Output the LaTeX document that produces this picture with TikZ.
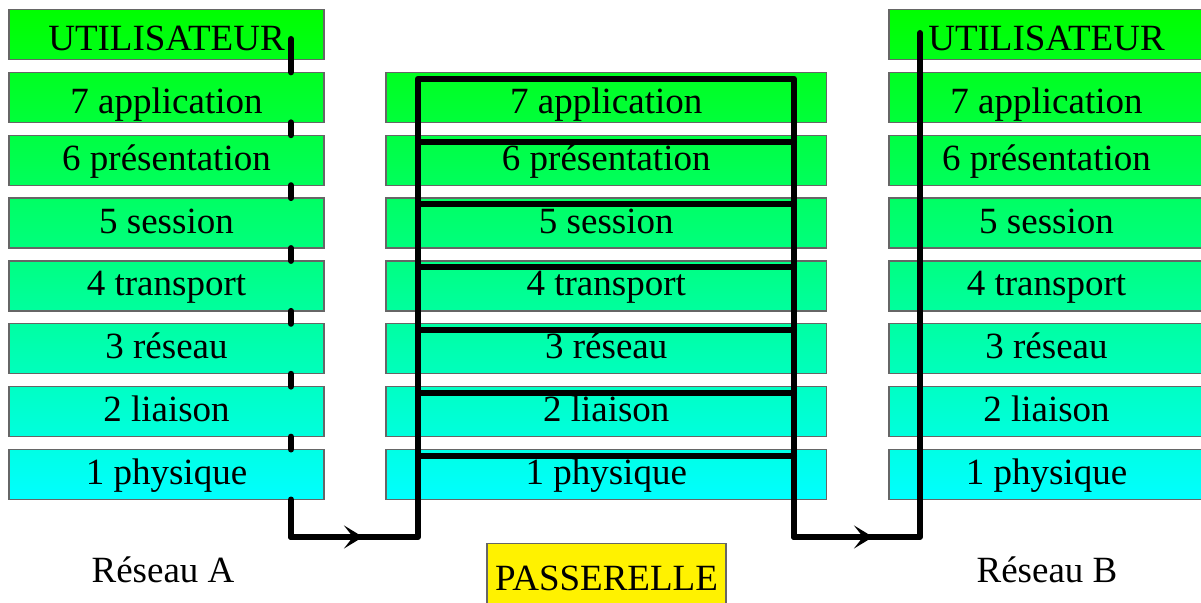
\documentclass[tikz,border=0pt]{standalone}
\usepackage{fontspec}
\setmainfont{Liberation Serif}
\usetikzlibrary{positioning, calc, arrows.meta}

\definecolor{grn}{RGB}{0,255,0}
\definecolor{cyn}{RGB}{0,255,255}

\begin{document}
\begin{tikzpicture}[x=0.5pt, y=-0.5pt, node distance=6.43pt]
	\tikzstyle{layer}=[draw=black!60, line width=0.6pt, inner sep=0pt,
		outer sep=0pt, minimum height=25pt, text height=17.5pt,
		text depth=7.5pt, font=\fontsize{18.5pt}{22pt}\selectfont]
	\tikzstyle{low}=[text height=20.5pt, text depth=4.5pt]
	\tikzstyle{side}=[layer, minimum width=157.5pt]
	\tikzstyle{mid}=[layer, minimum width=220.25pt]
	\tikzstyle{lvuser}=[low, top color=cyn!0!grn, bottom color=cyn!10!grn]
	\tikzstyle{lv7}=[low, top color=cyn!13!grn, bottom color=cyn!23!grn]
	\tikzstyle{lv6}=[top color=cyn!26!grn, bottom color=cyn!36!grn]
	\tikzstyle{lv5}=[top color=cyn!39!grn, bottom color=cyn!49!grn]
	\tikzstyle{lv4}=[top color=cyn!51!grn, bottom color=cyn!62!grn]
	\tikzstyle{lv3}=[top color=cyn!64!grn, bottom color=cyn!74!grn]
	\tikzstyle{lv2}=[top color=cyn!77!grn, bottom color=cyn!87!grn]
	\tikzstyle{lv1}=[top color=cyn!90!grn, bottom color=cyn!100!grn]
	\tikzstyle{lbl}=[anchor=base, inner sep=0pt,
		font=\fontsize{18.5pt}{22pt}\selectfont]
	\tikzstyle{link}=[line width=3pt, line cap=round, line join=round]
	\tikzstyle{tip}=[-{Stealth[length=9.5pt, width=11.5pt, inset=4.5pt]}]

	\clip (0,0) rectangle (1201,603);

	% reseau A
	\node[side, lvuser] (usera) at (166.5,34.5) {UTILISATEUR};
	\node[side, lv7, below=of usera] (lv7a) {7 application};
	\node[side, lv6, below=of lv7a] (lv6a) {6 présentation};
	\node[side, lv5, below=of lv6a] (lv5a) {5 session};
	\node[side, lv4, below=of lv5a] (lv4a) {4 transport};
	\node[side, lv3, below=of lv4a] (lv3a) {3 réseau};
	\node[side, lv2, below=of lv3a] (lv2a) {2 liaison};
	\node[side, lv1, below=of lv2a] (lv1a) {1 physique};

	% passerelle
	\node[mid, lv7, right=31pt of lv7a] (lv7p) {7 application};
	\node[mid, lv6, below=of lv7p] (lv6p) {6 présentation};
	\node[mid, lv5, below=of lv6p] (lv5p) {5 session};
	\node[mid, lv4, below=of lv5p] (lv4p) {4 transport};
	\node[mid, lv3, below=of lv4p] (lv3p) {3 réseau};
	\node[mid, lv2, below=of lv3p] (lv2p) {2 liaison};
	\node[mid, lv1, below=of lv2p] (lv1p) {1 physique};

	% reseau B
	\node[side, lv7, right=31.25pt of lv7p] (lv7b) {7 application};
	\node[side, lvuser, above=of lv7b] (userb) {UTILISATEUR};
	\node[side, lv6, below=of lv7b] (lv6b) {6 présentation};
	\node[side, lv5, below=of lv6b] (lv5b) {5 session};
	\node[side, lv4, below=of lv5b] (lv4b) {4 transport};
	\node[side, lv3, below=of lv4b] (lv3b) {3 réseau};
	\node[side, lv2, below=of lv3b] (lv2b) {2 liaison};
	\node[side, lv1, below=of lv2b] (lv1b) {1 physique};

	\node[lbl] (neta) at (163,583) {Réseau A};
	\node[lbl] (netb) at (1047,583) {Réseau B};
	\node[draw=black!60, line width=0.6pt, fill=yellow, inner sep=0pt,
		minimum width=119.5pt, minimum height=33pt, text height=23.5pt,
		text depth=9.5pt, anchor=north,
		font=\fontsize{18.5pt}{22pt}\selectfont] (gw) at (606.5,543)
		{PASSERELLE};

	\coordinate (starta) at (291,39);
	\coordinate (cornera) at (291,537);
	\coordinate (arra) at (363,537);
	\coordinate (gwbl) at (418,537);
	\coordinate (gwbr) at (794,537);
	\coordinate (arrb) at (873,537);
	\coordinate (cornerb) at (920,537);
	\coordinate (endb) at (920,33);
	\coordinate (gwtl) at ($(lv7p.north -| gwbl)+(0,-3.2pt)$);
	\coordinate (gwtr) at ($(lv7p.north -| gwbr)+(0,-3.2pt)$);

	\draw[link] (starta) -- (lv7a.north -| starta);
	\draw[link] (lv7a.south -| starta) -- (lv6a.north -| starta);
	\draw[link] (lv6a.south -| starta) -- (lv5a.north -| starta);
	\draw[link] (lv5a.south -| starta) -- (lv4a.north -| starta);
	\draw[link] (lv4a.south -| starta) -- (lv3a.north -| starta);
	\draw[link] (lv3a.south -| starta) -- (lv2a.north -| starta);
	\draw[link] (lv2a.south -| starta) -- (lv1a.north -| starta);
	\draw[link] (lv1a.south -| starta) -- (cornera) -- (gwbl) -- (gwtl)
		-- (gwtr) -- (gwbr) -- (cornerb) -- (endb);
	\draw[link, tip] (cornera) -- (arra);
	\draw[link, tip] (gwbr) -- (arrb);

	\draw[link] ($(lv6p.north -| gwbl)+(0,-3.2pt)$) --
		($(lv6p.north -| gwbr)+(0,-3.2pt)$);
	\draw[link] ($(lv5p.north -| gwbl)+(0,-3.2pt)$) --
		($(lv5p.north -| gwbr)+(0,-3.2pt)$);
	\draw[link] ($(lv4p.north -| gwbl)+(0,-3.2pt)$) --
		($(lv4p.north -| gwbr)+(0,-3.2pt)$);
	\draw[link] ($(lv3p.north -| gwbl)+(0,-3.2pt)$) --
		($(lv3p.north -| gwbr)+(0,-3.2pt)$);
	\draw[link] ($(lv2p.north -| gwbl)+(0,-3.2pt)$) --
		($(lv2p.north -| gwbr)+(0,-3.2pt)$);
	\draw[link] ($(lv1p.north -| gwbl)+(0,-3.2pt)$) --
		($(lv1p.north -| gwbr)+(0,-3.2pt)$);
\end{tikzpicture}
\end{document}
